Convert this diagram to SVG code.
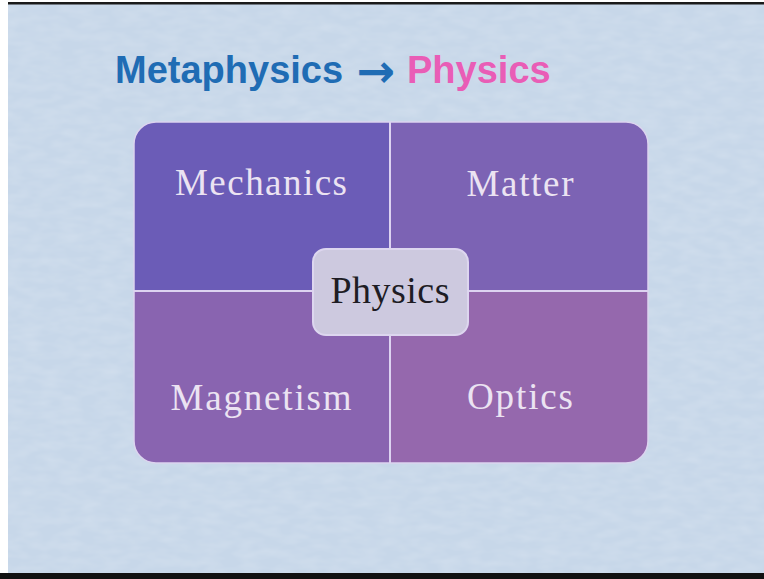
<svg xmlns="http://www.w3.org/2000/svg" width="764" height="579" viewBox="0 0 764 579">
<style>
.title{font-family:"Liberation Sans",Arial,sans-serif;font-weight:bold;font-size:38px}
.lbl{font-family:"Liberation Serif","Times New Roman",serif;font-size:37px;fill:#ebe3f2;text-anchor:middle}
.div{stroke:#ddd3f1;stroke-width:2}
</style>
<defs>
<clipPath id="grid"><rect x="134" y="122" width="514" height="341" rx="22" ry="22"/></clipPath>
<filter id="tex" x="0" y="0" width="100%" height="100%">
<feTurbulence type="fractalNoise" baseFrequency="0.05 0.12" numOctaves="2" seed="3" result="n"/>
<feColorMatrix in="n" type="matrix" values="0 0 0 0 1  0 0 0 0 1  0 0 0 0 1  0 0 0 0.25 -0.08" result="w"/>
<feComposite in="w" in2="SourceGraphic" operator="in"/>
</filter>
</defs>
<rect x="0" y="0" width="764" height="579" fill="#ffffff"/>
<rect x="8" y="4" width="756" height="569" fill="#c7d7e9"/>
<rect x="8" y="4" width="756" height="569" fill="#c7d7e9" filter="url(#tex)"/>
<rect x="8" y="2" width="756" height="2.5" fill="#1a1a1a"/>
<rect x="0" y="573" width="764" height="6" fill="#111111"/>

<g id="title">
<text class="title" x="115" y="83" fill="#1f6cb4">Metaphysics</text>
<text x="376" y="87" font-family="'DejaVu Sans',sans-serif" font-weight="bold" font-size="46" fill="#1f6cb4" text-anchor="middle">→</text>
<text class="title" x="407" y="83" fill="#e95db6">Physics</text>
</g>

<g clip-path="url(#grid)">
<g id="mechanics">
<rect x="134" y="122" width="256" height="169" fill="#6b5cb7"/>
<text class="lbl" x="261" y="195" textLength="172" lengthAdjust="spacing">Mechanics</text>
</g>
<g id="matter">
<rect x="390" y="122" width="258" height="169" fill="#7c63b4"/>
<text class="lbl" x="520" y="196" textLength="107" lengthAdjust="spacing">Matter</text>
</g>
<g id="magnetism">
<rect x="134" y="291" width="256" height="172" fill="#8964b0"/>
<text class="lbl" x="261" y="410" textLength="181" lengthAdjust="spacing">Magnetism</text>
</g>
<g id="optics">
<rect x="390" y="291" width="258" height="172" fill="#9568ad"/>
<text class="lbl" x="520" y="409" textLength="106" lengthAdjust="spacing">Optics</text>
</g>
</g>
<g id="connectors">
<line class="div" x1="390" y1="122" x2="390" y2="463"/>
<line class="div" x1="134" y1="291" x2="648" y2="291"/>
<rect x="134" y="122" width="514" height="341" rx="22" ry="22" fill="none" stroke="#dcd4ef" stroke-width="1.5"/>
</g>
<g id="physics">
<rect x="313" y="249" width="155" height="86" rx="13" ry="13" fill="#cdc9df" stroke="#ddd6ef" stroke-width="2"/>
<text x="390" y="303" font-family="'Liberation Serif','Times New Roman',serif" font-size="38" fill="#1e1c24" text-anchor="middle" textLength="119" lengthAdjust="spacing">Physics</text>
</g>
</svg>
